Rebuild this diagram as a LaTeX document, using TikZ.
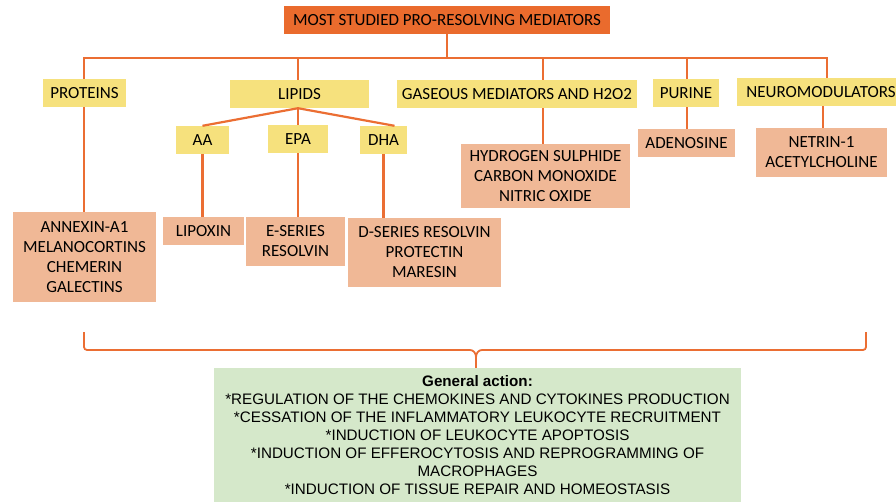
\documentclass[tikz,border=0pt]{standalone}
\usepackage{fontspec}
\setmainfont{Carlito}
\newfontfamily\arialf{Liberation Sans}
\usetikzlibrary{calc}
\definecolor{toporange}{HTML}{EA6B2D}
\definecolor{ylw}{HTML}{F6E17D}
\definecolor{salmon}{HTML}{F0B896}
\definecolor{grn}{HTML}{D5E8CA}
\definecolor{lineor}{HTML}{EB6E33}
\tikzset{
  bx/.style={rectangle, inner sep=0pt, align=center, font=\fontsize{17}{20}\selectfont},
  topbox/.style={bx, fill=toporange},
  ybox/.style={bx, fill=ylw},
  sbox/.style={bx, fill=salmon},
  conn/.style={draw=lineor, line width=2.2pt},
}
\begin{document}
\begin{tikzpicture}[x=1pt,y=-1pt]
\useasboundingbox (0,0) rectangle (896,502);
% nodes
\node[topbox, minimum width=326, minimum height=28] (top) at (447,20) {MOST STUDIED PRO-RESOLVING MEDIATORS};
\node[ybox, minimum width=83, minimum height=28] (proteins) at (84.5,93) {PROTEINS};
\node[ybox, minimum width=139, minimum height=28] (lipids) at (299.5,94) {LIPIDS};
\node[ybox, minimum width=240, minimum height=28] (gas) at (517,94) {GASEOUS MEDIATORS AND H2O2};
\node[ybox, minimum width=66, minimum height=28] (purine) at (686,93) {PURINE};
\node[ybox, minimum width=168, minimum height=28] (neuro) at (821,92) {NEUROMODULATORS};
\node[ybox, minimum width=53, minimum height=28] (aa) at (202.5,140) {AA};
\node[ybox, minimum width=60, minimum height=28] (epa) at (298,139) {EPA};
\node[ybox, minimum width=47, minimum height=28] (dha) at (383.5,140) {DHA};
\node[sbox, minimum width=143, minimum height=90] (annexin) at (84.5,257) {ANNEXIN-A1\\MELANOCORTINS\\CHEMERIN\\GALECTINS};
\node[sbox, minimum width=81, minimum height=28] (lipoxin) at (203.5,231) {LIPOXIN};
\node[sbox, minimum width=99, minimum height=49] (eseries) at (295.5,241.5) {E-SERIES\\RESOLVIN};
\node[sbox, minimum width=153, minimum height=69] (dseries) at (424.5,252.5) {D-SERIES RESOLVIN\\PROTECTIN\\MARESIN};
\node[sbox, minimum width=169, minimum height=64] (hydrogen) at (545.5,176) {HYDROGEN SULPHIDE\\CARBON MONOXIDE\\NITRIC OXIDE};
\node[sbox, minimum width=97, minimum height=28] (adenosine) at (686.5,143) {ADENOSINE};
\node[sbox, minimum width=131, minimum height=49] (netrin) at (821.5,152.5) {NETRIN-1\\ACETYLCHOLINE};
\node[rectangle, fill=grn, minimum width=527, minimum height=146, inner sep=0pt] (green) at (477.5,441) {};
\node[align=center, inner sep=0pt, font=\arialf\fontsize{15.2}{18}\selectfont] (gtext) at (477.5,435)
  {\textbf{General action:}\\*REGULATION OF THE CHEMOKINES AND CYTOKINES PRODUCTION\\*CESSATION OF THE INFLAMMATORY LEUKOCYTE RECRUITMENT\\*INDUCTION OF LEUKOCYTE APOPTOSIS\\*INDUCTION OF EFFEROCYTOSIS AND REPROGRAMMING OF\\MACROPHAGES\\*INDUCTION OF TISSUE REPAIR AND HOMEOSTASIS};
% bus
\coordinate (bl) at (84,58);
\coordinate (br) at (827,58);
\coordinate (cl) at (298,58);
\coordinate (cg) at (543,58);
\coordinate (cp) at (687,58);
\draw[conn] (top.south) -- (top.south |- bl);
\draw[conn] (proteins.north -| bl) -- (bl) -- (br) -- (br |- neuro.north);
\draw[conn] (cl) -- (cl |- lipids.north);
\draw[conn] (cg) -- (cg |- gas.north);
\draw[conn] (cp) -- (cp |- purine.north);
% lipid tree
\draw[conn] (lipids.south -| cl) -- (aa.north);
\draw[conn] (lipids.south -| cl) -- (epa.north -| cl);
\draw[conn] (lipids.south -| cl) -- ($(dha.north)+(11,0)$);
\draw[conn] (proteins.south -| bl) -- (annexin.north -| bl);
\draw[conn] (aa.south) -- (lipoxin.north -| aa.south);
\draw[conn] (epa.south -| cl) -- (eseries.north -| cl);
\draw[conn] (dha.south) -- (dseries.north -| dha.south);
\draw[conn] (gas.south -| cg) -- (hydrogen.north -| cg);
\draw[conn] (purine.south -| cp) -- (adenosine.north -| cp);
\coordinate (cn) at (823,0);
\draw[conn] (neuro.south -| cn) -- (netrin.north -| cn);
% brace
\coordinate (bL) at (84,332);
\coordinate (bR) at (866,332);
\draw[conn, line width=1.8pt] (bL) -- (84,347) arc[start angle=180, end angle=90, radius=3] -- (470,350) to[out=0,in=90] (476,357) -- (green.north -| 476,0);
\draw[conn, line width=1.8pt] (bR) -- (866,347) arc[start angle=0, end angle=90, radius=3] -- (482,350) to[out=180,in=90] (476,357);
\end{tikzpicture}
\end{document}
